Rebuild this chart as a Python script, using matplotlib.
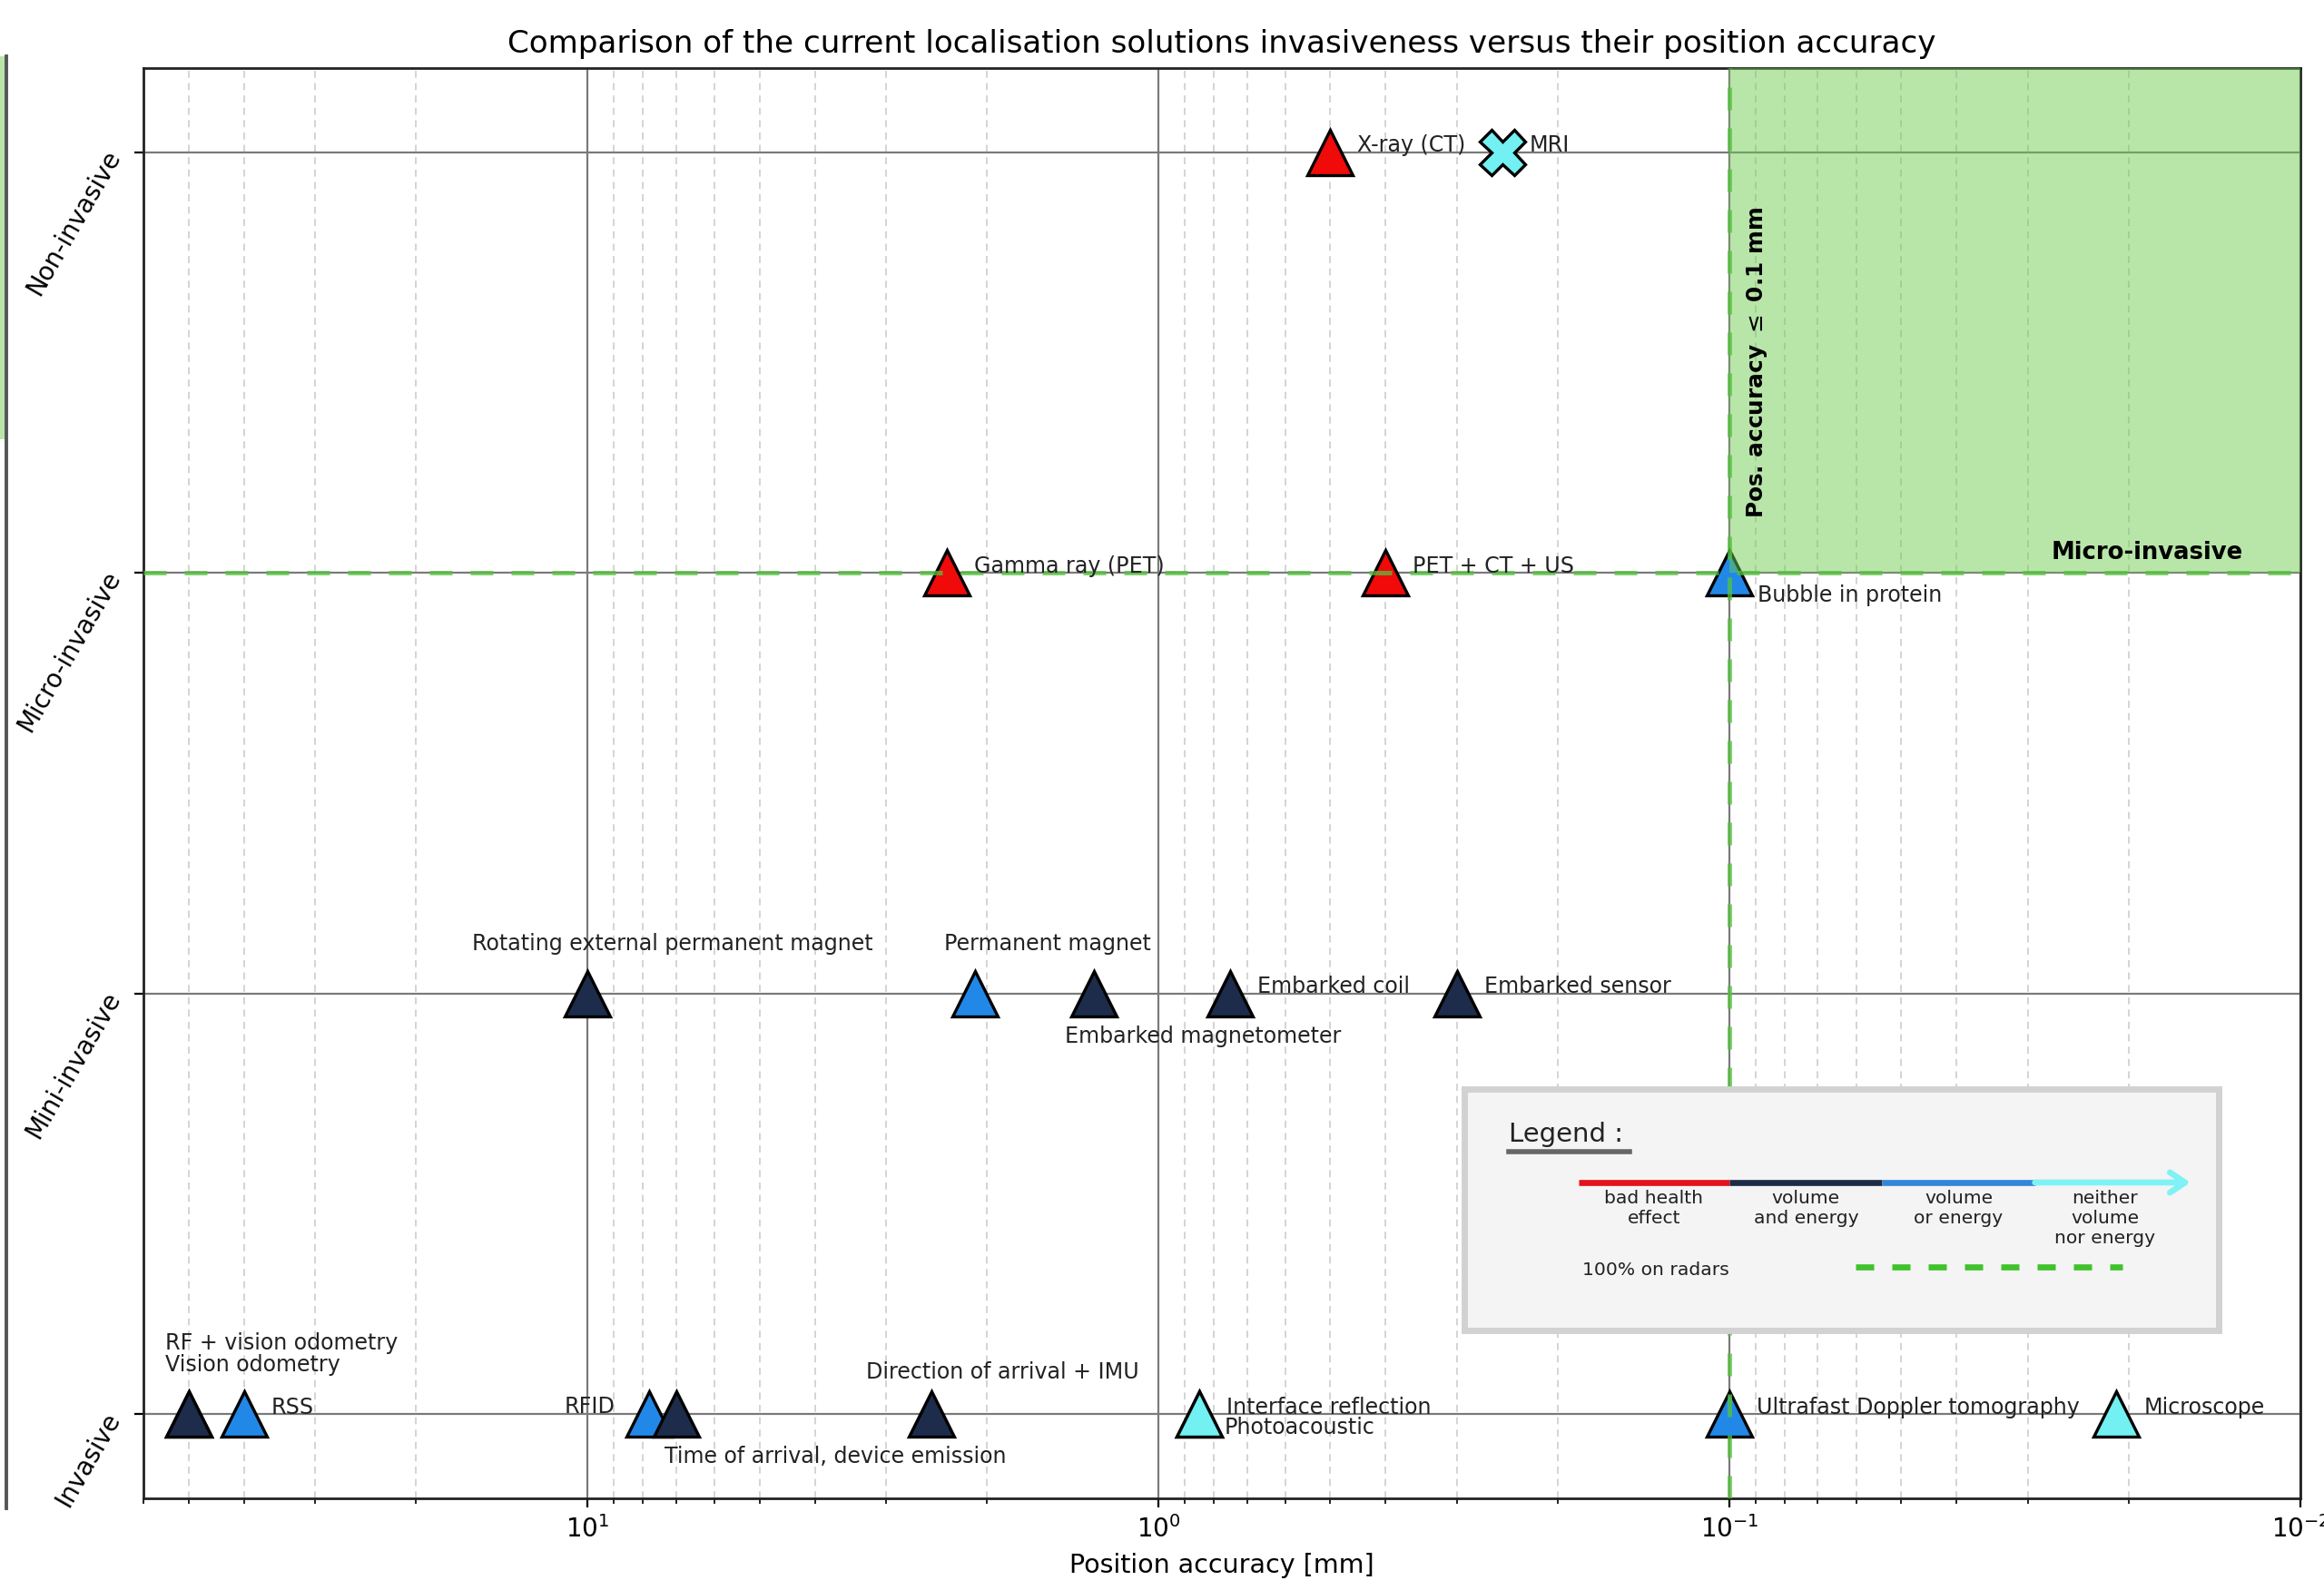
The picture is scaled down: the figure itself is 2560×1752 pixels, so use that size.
import matplotlib
matplotlib.use("Agg")
import matplotlib.pyplot as plt
from matplotlib.ticker import LogLocator, NullFormatter
from matplotlib.patches import Rectangle, FancyArrowPatch
from matplotlib.lines import Line2D

# ---- data -------------------------------------------------------------
invasiveness_levels = ["Invasive", "Mini-invasive", "Micro-invasive", "Non-invasive"]

methods = [
    "X-ray (CT)", "MRI",
    "Gamma ray (PET)", "PET + CT + US", "Bubble in protein",
    "Rotating external permanent magnet", "Permanent magnet",
    "Embarked magnetometer", "Embarked coil", "Embarked sensor",
    "RF + vision odometry", "Vision odometry", "RSS", "RFID",
    "Time of arrival, device emission", "Direction of arrival + IMU",
    "Interface reflection", "Photoacoustic",
    "Ultrafast Doppler tomography", "Microscope",
]
accuracy_mm = [
    0.5, 0.25,
    2.35, 0.4, 0.1,
    10, 2.1, 1.3, 0.75, 0.3,
    50, 50, 40, 7.8, 7.0, 2.5,
    0.85, 0.85, 0.1, 0.021,
]
invasiveness = [
    3, 3,
    2, 2, 2,
    1, 1, 1, 1, 1,
    0, 0, 0, 0, 0, 0,
    0, 0, 0, 0,
]
# drawback class: 0 bad health effect, 1 volume and energy,
# 2 volume or energy, 3 neither volume nor energy
drawback = [
    0, 3,
    0, 0, 2,
    1, 2, 1, 1, 1,
    1, 1, 2, 2, 1, 1,
    3, 3, 2, 3,
]
legend_labels = ["bad health\neffect", "volume\nand energy", "volume\nor energy",
                 "neither\nvolume\nnor energy"]
radar_label = "100% on radars"
threshold_mm = 0.1
threshold_level = 2

# ---- style ------------------------------------------------------------
class_colors = ["#f00a0a", "#1c2c4a", "#2288e8", "#72f0f2"]
arrow_colors = ["#e3121c", "#1d2b46", "#3386d8", "#80f2f6"]
green_line = "#55c23e"
green_fill = (0.42, 0.80, 0.30)

# per-label offsets in points and horizontal alignment
label_pos = {
    "Bubble in protein": (11, -9, "left"),
    "Rotating external permanent magnet": (33.5, 19.5, "center"),
    "Permanent magnet": (29, 19.5, "center"),
    "Embarked magnetometer": (43.5, -17, "center"),
    "RF + vision odometry": (-9.4, 28.2, "left"),
    "Vision odometry": (-9.4, 19.6, "left"),
    "RFID": (-13.5, 2.9, "right"),
    "Time of arrival, device emission": (-4.7, -17, "left"),
    "Direction of arrival + IMU": (28.2, 16.5, "center"),
    "Photoacoustic": (10, -5.3, "left"),
}
default_pos = (10.8, 2.6, "left")

fig = plt.figure(figsize=(12.8, 8.76), dpi=200)

# neighbouring panel edge on the far left
side = fig.add_axes([-0.05, 0.0514, 0.0527, 0.9132])
side.set_xlim(0, 1)
side.set_ylim(0, 1)
side.axhspan(0.736, 1.0, color=green_fill, alpha=0.48, lw=0)
for s in ["left", "top", "bottom"]:
    side.spines[s].set_visible(False)
side.spines["right"].set_color("#555555")
side.spines["right"].set_linewidth(1.4)
side.set_xticks([])
side.set_yticks([])

ax = fig.add_axes([0.0617, 0.0578, 0.9281, 0.8994])
ax.set_xscale("log")
ax.set_xlim(60, 0.01)
ax.set_ylim(-0.2, 3.2)

ax.xaxis.set_major_locator(LogLocator(base=10, numticks=10))
ax.xaxis.set_minor_locator(LogLocator(base=10, subs=range(2, 10), numticks=20))
ax.xaxis.set_minor_formatter(NullFormatter())
ax.set_yticks(range(len(invasiveness_levels)))
ax.set_yticklabels(invasiveness_levels, rotation=60, ha="right", va="center",
                   rotation_mode="anchor", fontsize=10)
ax.tick_params(axis="x", which="major", labelsize=10)
ax.tick_params(axis="y", pad=8)

ax.grid(True, which="major", axis="both", color="#7a7a7a", lw=0.8, zorder=0)
ax.grid(True, which="minor", axis="x", color="#d4d4d4", lw=0.7, ls=(0, (4, 3)), zorder=0)
ax.set_axisbelow(True)
for s in ax.spines.values():
    s.set_linewidth(1.0)
    s.set_color("#222222")

# target zone
ax.add_patch(Rectangle((threshold_mm, threshold_level), 0.01 - threshold_mm, 3.2 - threshold_level,
                       facecolor=green_fill, alpha=0.48, lw=0, zorder=4))
ax.axhline(threshold_level, color=green_line, lw=1.8, ls=(0, (5, 4)), alpha=0.75, zorder=4)
ax.axvline(threshold_mm, color=green_line, lw=1.8, ls=(0, (5, 4)), alpha=0.75, zorder=4)
ax.text(0.094, 2.5, r"Pos. accuracy $\leq$ 0.1 mm", rotation=90, fontsize=8.9,
        fontweight="bold", ha="left", va="center", zorder=6)
ax.text(0.0126, 2.02, "Micro-invasive", fontsize=9.3, fontweight="bold",
        ha="right", va="bottom", zorder=6)

# solutions
for name, x, y, c in zip(methods, accuracy_mm, invasiveness, drawback):
    mk = "X" if name == "MRI" else "^"
    ax.plot(x, y, marker=mk, ms=18, mfc=class_colors[c], mec="black", mew=1.2,
            ls="none", zorder=3)
    dx, dy, ha = label_pos.get(name, default_pos)
    ax.annotate(name, (x, y), xytext=(dx, dy), textcoords="offset points",
                ha=ha, va="center", fontsize=8.55, color="#222222", zorder=6)

ax.set_title("Comparison of the current localisation solutions invasiveness versus their position accuracy",
             fontsize=12.3)
ax.set_xlabel("Position accuracy [mm]", fontsize=10.25)

# legend panel
T = ax.transAxes
ax.add_patch(Rectangle((0.6124, 0.117), 0.3498, 0.169, transform=T, facecolor="#f4f4f4",
                       edgecolor="#d2d2d2", lw=2.5, zorder=7))
ax.text(0.633, 0.2545, "Legend :", transform=T, fontsize=10.5, ha="left", va="center",
        color="#222222", zorder=8)
ax.add_line(Line2D([0.633, 0.689], [0.2425, 0.2425], transform=T, color="#666666",
                   lw=2, zorder=8))
seg_x = [0.6653, 0.7354, 0.8062, 0.877, 0.9491]
for i, col in enumerate(arrow_colors):
    if i < 3:
        ax.add_line(Line2D([seg_x[i], seg_x[i + 1]], [0.2207, 0.2207], transform=T,
                           color=col, lw=2.4, solid_capstyle="butt", zorder=8))
    else:
        ax.add_patch(FancyArrowPatch((seg_x[i], 0.2207), (seg_x[i + 1], 0.2207),
                                     transform=T, arrowstyle="->,head_length=6,head_width=4",
                                     color=col, lw=2.4, zorder=8, shrinkA=0, shrinkB=0))
    ax.text((seg_x[i] + seg_x[i + 1]) / 2 - (0.0035 if i == 3 else 0), 0.2155,
            legend_labels[i], transform=T, fontsize=7.3, ha="center", va="top",
            color="#222222", zorder=8, linespacing=1.2)
ax.text(0.701, 0.1596, radar_label, transform=T, fontsize=7.3, ha="center", va="center",
        color="#222222", zorder=8)
ax.add_line(Line2D([0.7938, 0.9175], [0.1617, 0.1617], transform=T, color="#3fc22a",
                   lw=2.4, ls=(0, (3, 3)), zorder=8))

fig.savefig("out.png", dpi=200)
